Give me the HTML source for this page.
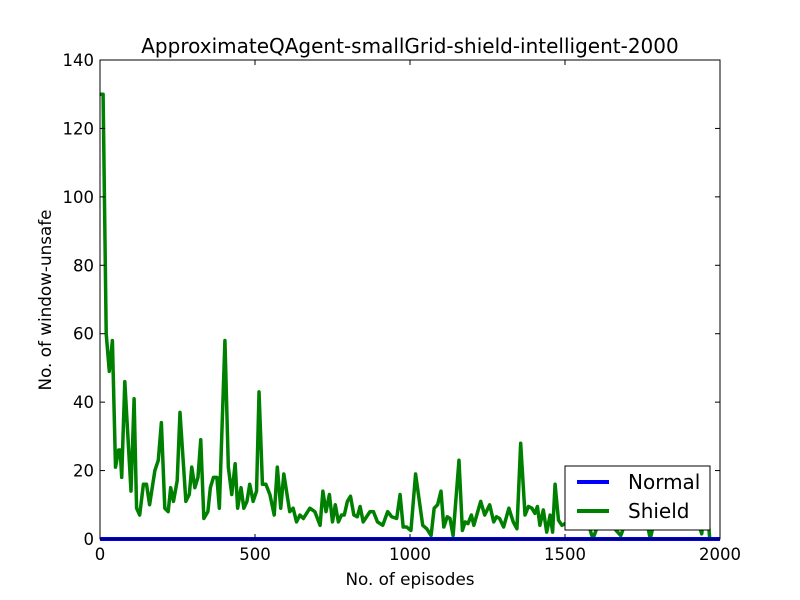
<!DOCTYPE html>
<html><head><meta charset="utf-8"><style>
html,body{margin:0;padding:0;background:#fff;}
svg{display:block;font-family:"DejaVu Sans","Liberation Sans",sans-serif;}
</style></head><body>
<svg id="chart" width="800" height="600" viewBox="0 0 800 600">
<rect x="0" y="0" width="800" height="600" fill="#fff"/>
<text x="410" y="53" text-anchor="middle" font-size="20">ApproximateQAgent-smallGrid-shield-intelligent-2000</text>
<g id="plot"></g>
<g id="xticks"></g>
<g id="yticks"></g>
<text x="410" y="585" text-anchor="middle" font-size="16.8">No. of episodes</text>
<text x="51" y="300" text-anchor="middle" font-size="16.8" transform="rotate(-90 51 300)">No. of window-unsafe</text>
<rect x="100" y="60" width="620" height="479" fill="none" stroke="#000" stroke-width="1"/>
<g>
<rect x="565" y="466" width="145" height="64" fill="#fff" stroke="#000" stroke-width="1"/>
<line x1="577" y1="482" x2="609" y2="482" stroke="#0000ff" stroke-width="4"/>
<text x="628" y="489" font-size="20">Normal</text>
<line x1="577" y1="511" x2="609" y2="511" stroke="#008000" stroke-width="4"/>
<text x="628" y="518" font-size="20">Shield</text>
</g>
</svg>
<script>
const xTickValues = [0, 500, 1000, 1500, 2000];
const yTickValues = [0, 20, 40, 60, 80, 100, 120, 140];
const normalEpisodes = [0, 2000];
const normalValues = [0, 0];
const shieldEpisodes = [0,10,20,30,40,50,60,65,70,80,100,110,118,128,140,150,160,177,188,198,209,220,228,237,249,258,277,288,296,306,316,325,335,348,356,366,377,385,403,414,425,436,444,455,464,474,483,494,505,513,524,535,548,562,572,583,593,612,623,634,645,656,677,693,710,719,729,740,750,759,769,779,788,798,808,819,830,839,849,871,882,895,912,928,941,957,968,978,989,1003,1018,1041,1054,1068,1078,1089,1100,1109,1120,1129,1139,1158,1169,1178,1187,1198,1206,1228,1241,1257,1270,1279,1289,1302,1319,1333,1345,1357,1371,1382,1393,1403,1411,1419,1430,1441,1452,1460,1468,1479,1490,1510,1530,1550,1570,1590,1610,1630,1650,1680,1700,1720,1740,1760,1775,1790,1810,1830,1850,1870,1890,1910,1930,1941,1955,1967,1983,2000];
const shieldValues = [130,130,60,49,58,21,26,26,18,46,14,41,9,7,16,16,10,20,23,34,9,8,15,11,17,37,11,13,21,15,18,29,6,8,15,18,18,9,58,21,13,22,9,15,9,11,16,11,14,43,16,16,13,7,21,9,19,8,9,5,7,6,9,8,4,14,8,13,5,10,5,7,7,11,12.5,7,6.5,9.5,5,8,8,5,4,8,6.5,6,13,3.5,3.5,2.5,19,4,3,1,9,10,14,3.5,6.5,6,1,23,2.5,5,4.5,7,4,11,7,10,5,6.5,6,3.5,9,5,3,28,7,9.5,9,7.5,9.5,4,8.5,2,7,2,16,5.5,4,5,8,4,6,0,5,7,4,1,6,8,5,7,0,6,4,8,5,6,3,7,5,1.5,13,0,0];

const X0=100, X1=720, Y0=539, Y1=60;
function xs(v){ return X0 + (v-0)/(2000-0)*(X1-X0); }
function ys(v){ return Y0 - (v-0)/(140-0)*(Y0-Y1); }
const NS='http://www.w3.org/2000/svg';
const plot=document.getElementById('plot');
const xg=document.getElementById('xticks');
const yg=document.getElementById('yticks');

function mk(tag, attrs, parent){ const e=document.createElementNS(NS,tag); for(const k in attrs) e.setAttribute(k,attrs[k]); parent.appendChild(e); return e; }

const sp = mk('polyline',{points: shieldEpisodes.map((e,i)=>xs(e)+','+ys(shieldValues[i])).join(' '), fill:'none', stroke:'#008000','stroke-width':3.5,'stroke-linejoin':'round'}, plot);


const np = mk('polyline',{points: normalEpisodes.map((e,i)=>xs(e)+','+ys(normalValues[i])).join(' '), fill:'none', stroke:'#0000ff','stroke-width':4}, plot);



xTickValues.forEach(v=>{
  const x=xs(v);
  const t1 = mk('line',{x1:x,y1:Y0,x2:x,y2:Y0-5,stroke:'#000'},xg);
  
  
  const t2 = mk('line',{x1:x,y1:Y1,x2:x,y2:Y1+5,stroke:'#000'},xg);
  
  
  const tl = mk('text',{x:x,y:Y0+21,'text-anchor':'middle','font-size':16.5},xg);
  tl.textContent=v;
  
  
});
yTickValues.forEach(v=>{
  const y=ys(v);
  const t1 = mk('line',{x1:X0,y1:y,x2:X0+5,y2:y,stroke:'#000'},yg);
  
  
  const t2 = mk('line',{x1:X1,y1:y,x2:X1-5,y2:y,stroke:'#000'},yg);
  
  
  const tl = mk('text',{x:X0-6,y:y+6,'text-anchor':'end','font-size':16.5},yg);
  tl.textContent=v;
  
  
});
</script>
</body></html>
